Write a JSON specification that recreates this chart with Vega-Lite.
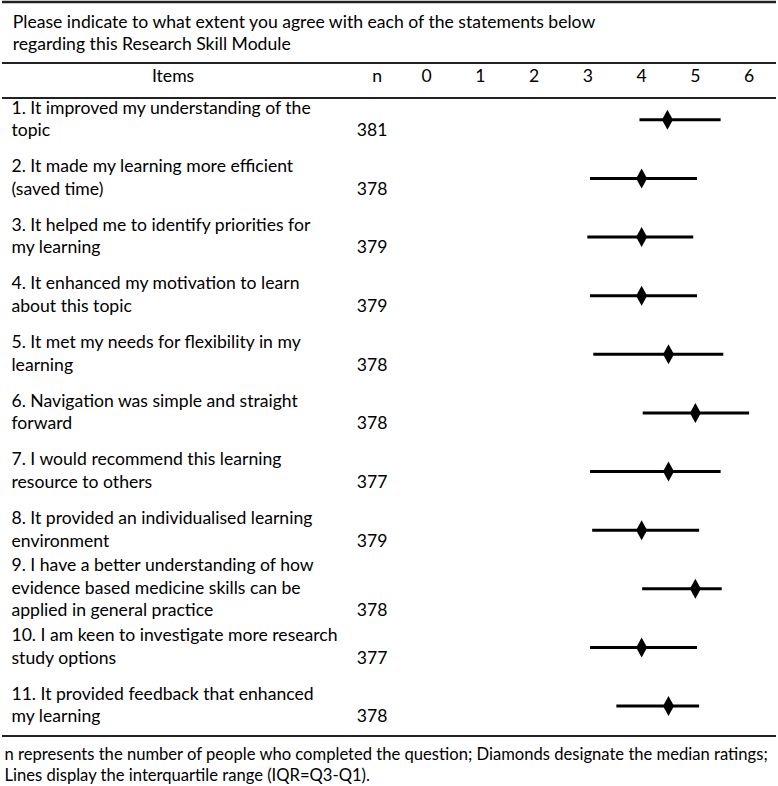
{
  "$schema": "https://vega.github.io/schema/vega-lite/v6.json",
  "width": 778,
  "height": 786,
  "padding": 0,
  "autosize": {"type": "fit", "contains": "padding"},
  "background": "white",
  "config": {
    "view": {"stroke": null},
    "font": "Lato",
    "text": {"font": "Lato", "fontSize": 17.6, "color": "#000"}
  },
  "data": {
    "values": [
      {"item": 1, "text": ["\u00a01. It improved my understanding of the", "topic"], "n": 381, "q1": 3.96, "median": 4.48, "q3": 5.47},
      {"item": 2, "text": ["\u00a02. It made my learning more efficient", "(saved time)"], "n": 378, "q1": 3.04, "median": 4.0, "q3": 5.03},
      {"item": 3, "text": ["\u00a03. It helped me to identify priorities for", "my learning"], "n": 379, "q1": 2.99, "median": 4.0, "q3": 4.96},
      {"item": 4, "text": ["\u00a04. It enhanced my motivation to learn", "about this topic"], "n": 379, "q1": 3.04, "median": 4.0, "q3": 5.03},
      {"item": 5, "text": ["5. It met my needs for flexibility in my", "learning"], "n": 378, "q1": 3.1, "median": 4.5, "q3": 5.52},
      {"item": 6, "text": ["6. Navigation was simple and straight", "forward"], "n": 378, "q1": 4.02, "median": 5.0, "q3": 6.0},
      {"item": 7, "text": ["7. I would recommend this learning", "resource to others"], "n": 377, "q1": 3.04, "median": 4.5, "q3": 5.47},
      {"item": 8, "text": ["8. It provided an individualised learning", "environment"], "n": 379, "q1": 3.08, "median": 4.0, "q3": 5.07},
      {"item": 9, "text": ["\u00a09. I have a better understanding of how", "evidence based medicine skills can be", "applied in general practice"], "n": 378, "q1": 4.01, "median": 5.0, "q3": 5.49},
      {"item": 10, "text": ["10. I am keen to investigate more research", "study options"], "n": 377, "q1": 3.04, "median": 4.0, "q3": 5.03},
      {"item": 11, "text": ["11. It provided feedback that enhanced", "my learning"], "n": 378, "q1": 3.53, "median": 4.5, "q3": 5.07}
    ]
  },
  "layer": [
    {
      "data": {"values": [{}]},
      "mark": {"type": "rule", "strokeWidth": 2.5, "color": "#222"},
      "encoding": {"y": {"datum": -1.0103, "type": "quantitative", "scale": {"domain": [-1.0273, 12.363], "reverse": true, "nice": false, "zero": false}, "axis": null}}
    },
    {
      "data": {"values": [{}]},
      "mark": {"type": "rule", "strokeWidth": 2, "color": "#222"},
      "encoding": {"y": {"datum": 0.0289, "type": "quantitative", "scale": {"domain": [-1.0273, 12.363], "reverse": true, "nice": false, "zero": false}, "axis": null}}
    },
    {
      "data": {"values": [{}]},
      "mark": {"type": "rule", "strokeWidth": 2, "color": "#222"},
      "encoding": {"y": {"datum": 0.6252, "type": "quantitative", "scale": {"domain": [-1.0273, 12.363], "reverse": true, "nice": false, "zero": false}, "axis": null}}
    },
    {
      "data": {"values": [{}]},
      "mark": {"type": "rule", "strokeWidth": 2, "color": "#222"},
      "encoding": {"y": {"datum": 11.511, "type": "quantitative", "scale": {"domain": [-1.0273, 12.363], "reverse": true, "nice": false, "zero": false}, "axis": null}}
    },
    {
      "data": {"values": [{"text": ["Please indicate to what extent you agree with each of the statements below", "regarding this Research Skill Module"]}]},
      "mark": {"type": "text", "align": "left", "baseline": "middle", "lineHeight": 22, "dy": -11},
      "encoding": {
        "text": {"field": "text"},
        "x": {"datum": -7.70, "type": "quantitative", "scale": {"domain": [-7.9, 6.5], "nice": false, "zero": false}, "axis": null},
        "y": {"datum": -0.4651, "type": "quantitative", "scale": {"domain": [-1.0273, 12.363], "reverse": true, "nice": false, "zero": false}, "axis": null}
      }
    },
    {
      "data": {"values": [{"label": "Items"}]},
      "mark": {"type": "text", "align": "center", "baseline": "middle"},
      "encoding": {
        "text": {"field": "label"},
        "x": {"datum": -4.717, "type": "quantitative", "scale": {"domain": [-7.9, 6.5], "nice": false, "zero": false}, "axis": null},
        "y": {"datum": 0.2674, "type": "quantitative", "scale": {"domain": [-1.0273, 12.363], "reverse": true, "nice": false, "zero": false}, "axis": null}
      }
    },
    {
      "data": {"values": [{"label": "n"}]},
      "mark": {"type": "text", "align": "center", "baseline": "middle"},
      "encoding": {
        "text": {"field": "label"},
        "x": {"datum": -0.922, "type": "quantitative", "scale": {"domain": [-7.9, 6.5], "nice": false, "zero": false}, "axis": null},
        "y": {"datum": 0.2674, "type": "quantitative", "scale": {"domain": [-1.0273, 12.363], "reverse": true, "nice": false, "zero": false}, "axis": null}
      }
    },
    {
      "data": {"values": [{"tick": 0}, {"tick": 1}, {"tick": 2}, {"tick": 3}, {"tick": 4}, {"tick": 5}, {"tick": 6}]},
      "mark": {"type": "text", "align": "center", "baseline": "middle"},
      "encoding": {
        "text": {"field": "tick"},
        "x": {"field": "tick", "type": "quantitative", "scale": {"domain": [-7.9, 6.5], "nice": false, "zero": false}, "axis": null},
        "y": {"datum": 0.2674, "type": "quantitative", "scale": {"domain": [-1.0273, 12.363], "reverse": true, "nice": false, "zero": false}, "axis": null}
      }
    },
    {
      "mark": {"type": "text", "align": "left", "baseline": "middle", "lineHeight": 22.6, "dy": {"expr": "-(length(datum.text) - 1) * 11.3"}},
      "encoding": {
        "text": {"field": "text"},
        "x": {"datum": -7.724, "type": "quantitative", "scale": {"domain": [-7.9, 6.5], "nice": false, "zero": false}, "axis": null},
        "y": {"field": "item", "type": "quantitative", "scale": {"domain": [-1.0273, 12.363], "reverse": true, "nice": false, "zero": false}, "axis": null}
      }
    },
    {
      "mark": {"type": "text", "align": "left", "baseline": "middle", "dy": {"expr": "(length(datum.text) - 1) * 11.3"}},
      "encoding": {
        "text": {"field": "n"},
        "x": {"datum": -1.298, "type": "quantitative", "scale": {"domain": [-7.9, 6.5], "nice": false, "zero": false}, "axis": null},
        "y": {"field": "item", "type": "quantitative", "scale": {"domain": [-1.0273, 12.363], "reverse": true, "nice": false, "zero": false}, "axis": null}
      }
    },
    {
      "mark": {"type": "rule", "strokeWidth": 3, "color": "#000"},
      "encoding": {
        "x": {"field": "q1", "type": "quantitative", "scale": {"domain": [-7.9, 6.5], "nice": false, "zero": false}, "axis": null},
        "x2": {"field": "q3"},
        "y": {"field": "item", "type": "quantitative", "scale": {"domain": [-1.0273, 12.363], "reverse": true, "nice": false, "zero": false}, "axis": null}
      }
    },
    {
      "mark": {"type": "point", "shape": "M0,-1L0.55,0L0,1L-0.55,0Z", "filled": true, "size": 400, "color": "#000", "opacity": 1},
      "encoding": {
        "x": {"field": "median", "type": "quantitative", "scale": {"domain": [-7.9, 6.5], "nice": false, "zero": false}, "axis": null},
        "y": {"field": "item", "type": "quantitative", "scale": {"domain": [-1.0273, 12.363], "reverse": true, "nice": false, "zero": false}, "axis": null}
      }
    },
    {
      "data": {"values": [{"text": ["n represents the number of people who completed the question; Diamonds designate the median ratings;", "Lines display the interquartile range (IQR=Q3-Q1)."]}]},
      "mark": {"type": "text", "align": "left", "baseline": "middle", "lineHeight": 21, "dy": -10.5, "fontSize": 16.6},
      "encoding": {
        "text": {"field": "text"},
        "x": {"datum": -7.854, "type": "quantitative", "scale": {"domain": [-7.9, 6.5], "nice": false, "zero": false}, "axis": null},
        "y": {"datum": 12.0137, "type": "quantitative", "scale": {"domain": [-1.0273, 12.363], "reverse": true, "nice": false, "zero": false}, "axis": null}
      }
    }
  ]
}
